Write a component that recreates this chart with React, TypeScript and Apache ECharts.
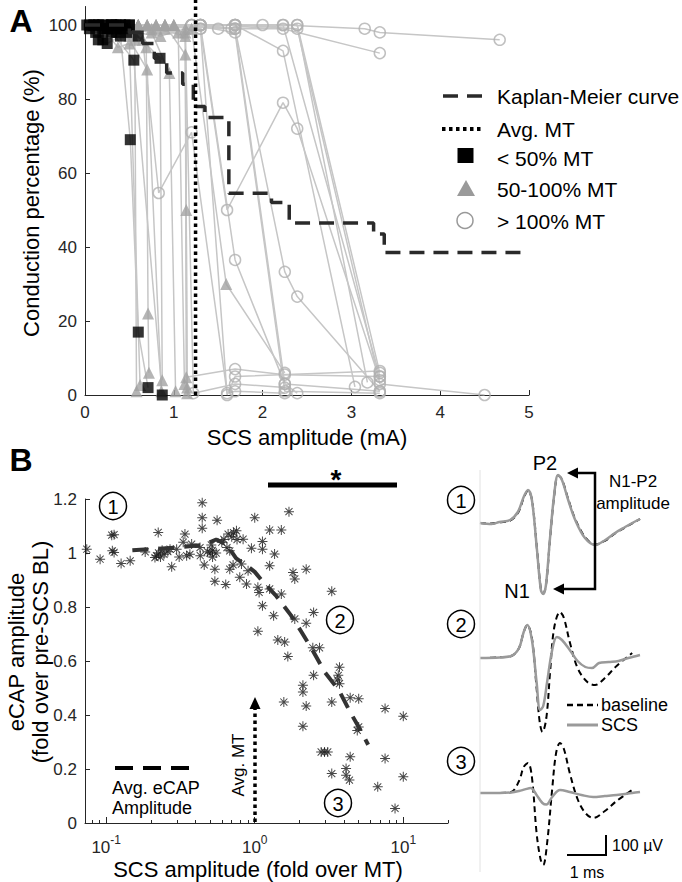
import React, { useEffect, useRef } from "react";
import * as echarts from "echarts";

const FONT = "'Liberation Sans', Arial, Helvetica, sans-serif";
const AXIS_COLOR = "#262626";

// ---------------- Panel A data ----------------
const A_X_TICKS = [0, 1, 2, 3, 4, 5];
const A_Y_TICKS = [0, 20, 40, 60, 80, 100];
const KM_X = [0, 0.5, 0.65, 0.78, 0.92, 1.1, 1.22, 1.35, 1.62, 2.1, 2.3, 3.25, 3.37, 5.0];
const KM_Y = [100, 98, 95, 91, 87, 84, 78, 75, 54.5, 52, 46.5, 43.5, 38.5, 38.5];
const AVG_MT_MA = 1.245;
const AVG_MT_LINE_Y = [0, 107];

// one trajectory per subject: SCS amplitude (mA), conduction (%), marker class
// S: < 50% MT, T: 50-100% MT, C: > 100% MT
const TRAJ_X: number[][] = [
  [0.05, 0.15, 0.25, 0.4, 0.51, 0.6, 0.71],
  [0.1, 0.2, 0.3, 0.55, 0.87],
  [0.15, 0.35, 0.6, 0.845, 0.87],
  [0.2, 0.37, 0.5, 0.62],
  [0.1, 0.3, 0.5, 0.69, 0.71, 0.72],
  [0.05, 0.25, 0.45, 0.7, 0.86],
  [0.2, 0.5, 0.75, 0.95, 1.02],
  [0.3, 0.6, 0.9, 1.13, 1.14, 1.15],
  [0.3, 0.6, 0.9, 1.13, 1.15],
  [0.4, 0.8, 1.13, 1.22, 1.69, 2.25],
  [0.25, 0.55, 0.85, 1.13, 1.14, 1.69, 2.25, 3.32],
  [0.2, 0.45, 0.65, 0.83, 1.2, 1.6, 1.69, 2.25],
  [0.35, 0.7, 1.0, 1.3, 1.6, 2.23, 2.39, 3.32],
  [0.4, 0.8, 1.2, 1.59, 2.25],
  [0.5, 0.9, 1.3, 1.69, 2.25, 3.32],
  [0.6, 1.2, 1.69, 2.25, 2.39, 3.32],
  [0.6, 1.2, 1.69, 2.25, 3.32],
  [0.7, 1.3, 1.69, 2.25, 2.39],
  [0.6, 1.2, 1.69, 2.23, 3.32],
  [0.8, 1.3, 1.69, 2.39, 3.32],
  [0.7, 1.3, 1.69, 2.23, 3.04],
  [0.8, 1.3, 1.69, 2.39, 3.32, 4.5],
  [1.0, 1.69, 2.23, 3.15, 3.32, 4.67],
  [0.9, 1.65, 2.23, 3.32],
  [0.5, 0.9, 1.3, 1.6, 1.69, 3.32],
  [1.0, 1.5, 2.0, 2.39, 3.18],
  [0.45, 0.75, 1.05, 1.12],
  [0.15, 0.35, 0.56, 0.58],
  [0.02, 0.12, 0.22, 0.32, 0.42, 0.47],
];
const TRAJ_Y: number[][] = [
  [99, 96, 95, 97, 69, 17, 2],
  [100, 96, 98, 90.5, 0],
  [100, 99, 97, 91, 4],
  [99, 94, 95, 2.7],
  [100, 100, 97, 94, 22, 6],
  [100, 99, 98, 88, 1],
  [100, 99, 98, 87, 1],
  [100, 100, 99, 98, 50, 2],
  [100, 100, 100, 92, 0.5],
  [100, 99, 97, 0.5, 3, 2],
  [99, 98, 97, 99, 4.8, 7, 5.5, 5],
  [100, 99, 96, 54.6, 71, 0.5, 1, 0.5],
  [100, 100, 100, 99, 50, 79, 72, 4],
  [100, 100, 99, 30, 6],
  [100, 100, 100, 36.5, 3, 1],
  [100, 100, 99, 33.3, 26.6, 1],
  [100, 100, 98, 1, 0.5],
  [100, 100, 99, 3, 0.5],
  [100, 100, 100, 100, 5],
  [100, 100, 99, 100, 6],
  [100, 100, 100, 93, 2.2],
  [100, 100, 100, 99, 3, 0],
  [100, 100, 100, 99, 98, 96],
  [100, 99, 99, 92.4],
  [100, 100, 99, 0, 5, 6.5],
  [100, 99, 100, 100, 3.4],
  [100, 99, 98, 3],
  [100, 98, 96, 1],
  [100, 98, 99, 100, 99, 98],
];
const TRAJ_MARK: string[] = [
  "SSSSSSS", "SSSSS", "SSSST", "STTT", "SSTTTT", "SSTTT", "STTTT", "STTTTT",
  "STTTT", "STTCCC", "STTTTCCC", "STTCCCCC", "STTCCCCC", "STTTC", "STCCCC",
  "TCCCCC", "TCCCC", "TCCCC", "TCCCC", "TCCCC", "TCCCC", "TCCCCC", "TCCCCC",
  "TCCC", "STCCCC", "TCCCC", "STTT", "SSTT", "SSSSSS",
];

// ---------------- Panel B data ----------------
const B_X_MIN = 0.072;
const B_X_MAX = 20;
const B_X_DECADES = [0.1, 1, 10];
const B_X_MINOR = [0.08, 0.09, 0.2, 0.3, 0.4, 0.5, 0.6, 0.7, 0.8, 0.9, 2, 3, 4, 5, 6, 7, 8, 9, 20];
const B_Y_TICKS = [0, 0.2, 0.4, 0.6, 0.8, 1, 1.2];

const ECAP_X = [
  0.074, 0.091, 0.109, 0.113, 0.110, 0.113, 0.126, 0.145, 0.183, 0.224,
  0.213, 0.218, 0.225, 0.232, 0.238, 0.245, 0.26, 0.276, 0.269, 0.298,
  0.339, 0.33, 0.376, 0.348, 0.366, 0.428, 0.443, 0.443, 0.443, 0.457,
  0.539, 0.558, 0.5, 0.52, 0.48, 0.51, 0.539, 0.638, 0.679, 0.679,
  0.662, 0.753, 0.715, 0.793, 0.835, 0.814, 0.88, 0.902, 0.95, 1.0,
  1.05, 1.07, 1.05, 1.127, 1.127, 1.127, 1.26, 1.26, 1.26, 1.36,
  1.34, 1.51, 1.51, 1.43, 1.59, 1.57, 1.70, 1.67, 1.81, 1.86,
  1.86, 2.22, 2.22, 2.11, 2.11, 2.11, 2.22, 2.49, 2.46, 2.49,
  2.73, 2.80, 2.95, 3.1, 3.30, 3.30, 3.30, 3.72, 3.65, 3.72,
  3.6, 4.12, 4.12, 4.34, 4.39, 4.39, 5.01, 5.01, 4.9, 6.73,
  7.54, 7.54, 8.8, 10.0, 10.0, 0.6, 0.62, 0.7, 0.72, 0.76,
  0.65, 0.43, 0.31, 0.52, 0.55,
];
const ECAP_Y = [
  1.014, 0.977, 1.066, 1.068, 1.008, 1.002, 0.961, 0.971, 1.004, 1.076,
  0.983, 0.99, 1.0, 0.985, 1.01, 0.995, 1.005, 0.949, 1.014, 1.014,
  1.07, 1.04, 1.033, 0.99, 0.995, 1.02, 1.186, 1.131, 1.092, 0.956,
  0.94, 1.121, 1.0, 1.01, 1.005, 1.03, 0.895, 0.883, 1.008, 0.94,
  1.07, 1.082, 0.956, 0.91, 1.051, 0.959, 0.885, 0.934, 1.018, 1.131,
  0.873, 0.854, 0.71, 1.043, 1.014, 0.805, 1.085, 0.953, 0.867, 0.996,
  0.768, 1.085, 0.848, 0.678, 0.67, 0.448, 1.153, 0.617, 0.928, 0.904,
  0.756, 0.94, 0.74, 0.51, 0.485, 0.358, 0.433, 0.78, 0.649, 0.547,
  0.649, 0.263, 0.263, 0.263, 0.858, 0.448, 0.183, 0.577, 0.547, 0.516,
  0.53, 0.202, 0.177, 0.159, 0.464, 0.245, 0.46, 0.356, 0.343, 0.134,
  0.424, 0.239, 0.054, 0.395, 0.171, 1.04, 1.05, 1.06, 1.075, 1.05,
  1.02, 0.99, 0.985, 0.985, 1.0,
];
const MEAN_X = [0.15, 0.3, 0.45, 0.55, 0.65, 0.75, 0.9, 1.0, 1.15, 1.4, 1.75, 2.05, 2.45, 2.95, 3.7, 4.4, 5.2, 5.8];
const MEAN_Y = [1.01, 1.02, 1.03, 1.05, 1.03, 0.98, 0.95, 0.93, 0.89, 0.84, 0.77, 0.71, 0.64, 0.56, 0.49, 0.41, 0.34, 0.29];

// ---------------- example traces (time ms, amplitude µV) ----------------
const TRACE_T_RANGE = [0, 4.1];
const TRACE_V_RANGE = [-400, 300];
const TR1_T = [0, 0.3, 0.5, 0.77, 0.97, 1.13, 1.23, 1.33, 1.46, 1.56, 1.62, 1.69, 1.79, 1.9, 2.0, 2.1, 2.26, 2.44, 2.69, 2.95, 3.21, 3.46, 3.72, 3.9, 4.1];
const TR1_BASE = [0, -3, 3, 12, 50, 130, 162, 118, -130, -330, -352, -312, -90, 135, 238, 218, 120, 20, -70, -108, -88, -52, -22, -2, 20];
const TR1_SCS = [0, -5, 5, 15, 55, 135, 165, 115, -135, -335, -355, -310, -85, 140, 240, 215, 115, 15, -75, -110, -85, -50, -20, 0, 20];
const TR2B_T = [0, 0.5, 0.8, 1.0, 1.12, 1.21, 1.33, 1.45, 1.53, 1.6, 1.7, 1.8, 1.9, 2.05, 2.15, 2.3, 2.5, 2.75, 2.95, 3.2, 3.5, 3.9];
const TR2B_V = [0, 3, 10, 50, 130, 165, 100, -150, -320, -370, -300, -60, 150, 230, 200, 80, -50, -120, -135, -100, -40, 25];
const TR2S_T = [0, 0.5, 0.8, 1.0, 1.12, 1.21, 1.33, 1.45, 1.54, 1.62, 1.72, 1.85, 1.97, 2.1, 2.3, 2.5, 2.7, 2.87, 3.05, 3.3, 3.55, 3.8, 4.1];
const TR2S_V = [0, 3, 10, 50, 130, 165, 90, -120, -260, -240, -120, 40, 105, 90, 40, -15, -45, -50, -25, -20, -15, 0, 15];
const TR3B_T = [0, 0.5, 0.8, 1.0, 1.12, 1.23, 1.33, 1.45, 1.55, 1.62, 1.72, 1.85, 1.95, 2.05, 2.15, 2.3, 2.5, 2.7, 2.9, 3.2, 3.5, 3.9];
const TR3B_V = [0, 0, 5, 60, 130, 150, 80, -200, -330, -360, -250, 20, 200, 250, 220, 100, -30, -100, -125, -90, -40, 15];
const TR3S_T = [0, 0.5, 0.8, 1.0, 1.15, 1.3, 1.45, 1.6, 1.7, 1.85, 2.05, 2.3, 2.6, 2.9, 3.2, 3.5, 3.9, 4.1];
const TR3S_V = [0, 0, 3, 10, 18, 25, -10, -50, -58, -20, 15, 5, -10, -20, -15, -10, 0, 5];

const ASTERISK =
  "path://M-1,-0.1L1,-0.1L1,0.1L-1,0.1Z M-0.1,-1L0.1,-1L0.1,1L-0.1,1Z M-0.636,-0.778L0.778,0.636L0.636,0.778L-0.778,-0.636Z M-0.778,0.636L0.636,-0.778L0.778,-0.636L-0.636,0.778Z";

const lg = (v: number) => Math.log10(v);
const pairs = (xs: number[], ys: number[]) => xs.map((x, i) => [x, ys[i]]);

function txt(text: string, x: number, y: number, size: number, opts: any = {}) {
  return {
    type: "text",
    x,
    y,
    z: 100,
    rotation: opts.rot || 0,
    style: {
      text,
      fill: opts.color || "#000",
      font: `${opts.bold ? "bold " : ""}${size}px ${FONT}`,
      textAlign: opts.align || "center",
      textVerticalAlign: "middle",
    },
  };
}
function circ(cx: number, cy: number, r: number, stroke = "#000", lw = 1.5) {
  return { type: "circle", z: 100, shape: { cx, cy, r }, style: { fill: "transparent", stroke, lineWidth: lw } };
}
function seg(x1: number, y1: number, x2: number, y2: number, stroke: string, lw: number, dash?: number[]) {
  return { type: "line", z: 100, shape: { x1, y1, x2, y2 }, style: { stroke, lineWidth: lw, lineDash: dash || null } };
}
function circled(n: string, cx: number, cy: number) {
  return [circ(cx, cy, 13.5), txt(n, cx, cy + 0.5, 20)];
}

function buildOption() {
  const markPts = (m: string) => {
    const out: number[][] = [];
    TRAJ_X.forEach((xs, i) =>
      xs.forEach((x, j) => {
        if (TRAJ_MARK[i][j] === m) out.push([x, TRAJ_Y[i][j]]);
      })
    );
    return out;
  };
  const tickLabel = { fontFamily: FONT, fontSize: 17, color: AXIS_COLOR };
  const axisLine = { show: true, onZero: false, lineStyle: { color: AXIS_COLOR, width: 1 } };
  const hiddenAxis = (gridIndex: number, min: number, max: number) => ({
    gridIndex, type: "value", min, max, show: false,
  });
  const grid = (left: number, top: number, width: number, height: number) => ({
    left, top, width, height, containLabel: false, outerBoundsMode: "none",
  });

  const trajSeries = TRAJ_X.map((xs, i) => ({
    type: "line",
    xAxisIndex: 0,
    yAxisIndex: 0,
    data: pairs(xs, TRAJ_Y[i]),
    symbol: "none",
    silent: true,
    z: 1,
    lineStyle: { color: "#c6c6c6", width: 1.5 },
  }));

  const traceLine = (xi: number, yi: number, t: number[], v: number[], base: boolean) => ({
    type: "line",
    xAxisIndex: xi,
    yAxisIndex: yi,
    data: pairs(t, v),
    symbol: "none",
    smooth: 0.35,
    silent: true,
    z: base ? 3 : 4,
    lineStyle: base
      ? { color: "#000", width: 2, type: [6, 4] }
      : { color: "#9a9a9a", width: 2.5 },
  });

  const graphic: any[] = [
    txt("A", 21, 21, 32, { bold: true }),
    txt("B", 21, 460, 32, { bold: true }),
    // Panel A titles
    txt("Conduction percentage (%)", 31, 203, 22, { rot: Math.PI / 2 }),
    txt("SCS amplitude (mA)", 307, 437, 22),
    // Panel A legend
    seg(443, 96, 482, 96, "#2a2a2a", 3.5, [15, 9]),
    txt("Kaplan-Meier curve", 497, 96, 21, { align: "left" }),
    seg(442, 129, 484, 129, "#000", 4, [3.5, 3.5]),
    txt("Avg. MT", 497, 129, 21, { align: "left" }),
    { type: "rect", z: 100, shape: { x: 457.5, y: 148, width: 16, height: 15 }, style: { fill: "#000" } },
    txt("< 50% MT", 497, 158, 21, { align: "left" }),
    { type: "polygon", z: 100, shape: { points: [[466, 180], [457, 196], [475, 196]] }, style: { fill: "#9a9a9a" } },
    txt("50-100% MT", 497, 189, 21, { align: "left" }),
    circ(465, 220.5, 8, "#999", 1.5),
    txt("> 100% MT", 497, 221, 21, { align: "left" }),
    // Panel B titles
    txt("eCAP amplitude", 16, 652, 22, { rot: Math.PI / 2 }),
    txt("(fold over pre-SCS BL)", 40, 652, 22, { rot: Math.PI / 2 }),
    txt("SCS amplitude (fold over MT)", 258, 869, 22),
    // significance bar
    txt("*", 336, 479, 28, { bold: true }),
    { type: "rect", z: 100, shape: { x: 268, y: 482.5, width: 129, height: 5 }, style: { fill: "#000" } },
    ...circled("1", 113, 506),
    ...circled("2", 340, 620),
    ...circled("3", 338, 803),
    // B legend
    seg(115, 768, 189, 768, "#000", 4, [18, 10]),
    txt("Avg. eCAP", 112, 788, 18, { align: "left" }),
    txt("Amplitude", 112, 808, 18, { align: "left" }),
    // Avg MT arrow
    seg(255, 822, 255, 707, "#000", 3.5, [3.5, 3.5]),
    { type: "polygon", z: 100, shape: { points: [[255, 697], [249.5, 709], [260.5, 709]] }, style: { fill: "#000" } },
    txt("Avg. MT", 238, 765, 17, { rot: Math.PI / 2 }),
    // traces decorations
    seg(480, 470, 480, 872, "#e2e2e2", 1),
    ...circled("1", 461, 500),
    ...circled("2", 461, 624),
    ...circled("3", 461, 761),
    txt("P2", 545, 463, 20),
    txt("N1", 517, 591, 20),
    txt("N1-P2", 633, 481, 17),
    txt("amplitude", 633, 503, 17),
    { type: "polyline", z: 100, shape: { points: [[577, 473], [595, 473], [595, 589], [563, 589]] }, style: { stroke: "#000", lineWidth: 2.5, fill: null } },
    { type: "polygon", z: 100, shape: { points: [[567, 473], [578, 467.5], [578, 478.5]] }, style: { fill: "#000" } },
    { type: "polygon", z: 100, shape: { points: [[553, 589], [564, 583.5], [564, 594.5]] }, style: { fill: "#000" } },
    seg(567, 705, 598, 705, "#000", 2.5, [6, 4]),
    txt("baseline", 601, 705, 18, { align: "left" }),
    seg(567, 725, 598, 725, "#9a9a9a", 3),
    txt("SCS", 601, 725, 18, { align: "left" }),
    { type: "polyline", z: 100, shape: { points: [[567, 855], [606, 855], [606, 835]] }, style: { stroke: "#000", lineWidth: 2, fill: null } },
    txt("100 µV", 612, 845, 16, { align: "left" }),
    txt("1 ms", 587, 872, 16),
  ];

  return {
    animation: false,
    backgroundColor: "#ffffff",
    grid: [
      grid(85, 6.5, 444, 388.5),
      grid(85, 499, 363, 324),
      grid(480, 463, 160, 140),
      grid(480, 598, 160, 140),
      grid(480, 733, 160, 140),
    ],
    xAxis: [
      {
        gridIndex: 0, type: "value", min: 0, max: 5, position: "bottom",
        axisLine,
        axisTick: { show: true, inside: true, length: 5, customValues: A_X_TICKS, lineStyle: { color: AXIS_COLOR } },
        axisLabel: { ...tickLabel, margin: 9, customValues: A_X_TICKS },
        splitLine: { show: false },
      },
      {
        gridIndex: 1, type: "value", min: lg(B_X_MIN), max: lg(B_X_MAX), position: "bottom",
        axisLine,
        axisTick: { show: true, inside: true, length: 6, customValues: B_X_DECADES.map(lg), lineStyle: { color: AXIS_COLOR } },
        axisLabel: {
          margin: 11,
          customValues: B_X_DECADES.map(lg),
          formatter: (v: number) => `{b|10}{s|${Math.round(v)}}`,
          rich: {
            b: { fontFamily: FONT, fontSize: 17, color: AXIS_COLOR, lineHeight: 26 },
            s: { fontFamily: FONT, fontSize: 12, color: AXIS_COLOR, lineHeight: 12, verticalAlign: "top" },
          },
        },
        splitLine: { show: false },
      },
      {
        gridIndex: 1, type: "value", min: lg(B_X_MIN), max: lg(B_X_MAX), position: "bottom", offset: 0,
        axisLine: { show: false, onZero: false },
        axisTick: { show: true, inside: true, length: 3, customValues: B_X_MINOR.map(lg), lineStyle: { color: AXIS_COLOR } },
        axisLabel: { show: false },
        splitLine: { show: false },
      },
      hiddenAxis(2, TRACE_T_RANGE[0], TRACE_T_RANGE[1]),
      hiddenAxis(3, TRACE_T_RANGE[0], TRACE_T_RANGE[1]),
      hiddenAxis(4, TRACE_T_RANGE[0], TRACE_T_RANGE[1]),
    ],
    yAxis: [
      {
        gridIndex: 0, type: "value", min: 0, max: 105,
        axisLine,
        axisTick: { show: true, inside: true, length: 5, customValues: A_Y_TICKS, lineStyle: { color: AXIS_COLOR } },
        axisLabel: { ...tickLabel, margin: 8, customValues: A_Y_TICKS },
        splitLine: { show: false },
      },
      {
        gridIndex: 1, type: "value", min: 0, max: 1.2,
        axisLine,
        axisTick: { show: true, inside: true, length: 5, customValues: B_Y_TICKS, lineStyle: { color: AXIS_COLOR } },
        axisLabel: {
          ...tickLabel, margin: 8, customValues: B_Y_TICKS,
          formatter: (v: number) => String(Math.round(v * 10) / 10),
        },
        splitLine: { show: false },
      },
      hiddenAxis(2, TRACE_V_RANGE[0], TRACE_V_RANGE[1]),
      hiddenAxis(3, TRACE_V_RANGE[0], TRACE_V_RANGE[1]),
      hiddenAxis(4, TRACE_V_RANGE[0], TRACE_V_RANGE[1]),
    ],
    series: [
      ...trajSeries,
      {
        type: "scatter", xAxisIndex: 0, yAxisIndex: 0, data: markPts("C"), symbol: "circle", symbolSize: 11, z: 2, silent: true,
        itemStyle: { color: "rgba(0,0,0,0)", borderColor: "#b0b0b0", borderWidth: 1.5 },
      },
      {
        type: "scatter", xAxisIndex: 0, yAxisIndex: 0, data: markPts("T"), symbol: "triangle", symbolSize: 12, z: 3, silent: true,
        itemStyle: { color: "#a3a3a3" },
      },
      {
        type: "scatter", xAxisIndex: 0, yAxisIndex: 0, data: markPts("S"), symbol: "rect", symbolSize: 11, z: 4, silent: true,
        itemStyle: { color: "#000" },
      },
      {
        type: "line", xAxisIndex: 0, yAxisIndex: 0, data: pairs(KM_X, KM_Y), step: "end", symbol: "none", z: 5, silent: true,
        lineStyle: { color: "#2a2a2a", width: 3.5, type: [15, 9] },
      },
      {
        type: "line", xAxisIndex: 0, yAxisIndex: 0, clip: false, z: 6, silent: true, symbol: "none",
        data: AVG_MT_LINE_Y.map((y) => [AVG_MT_MA, y]),
        lineStyle: { color: "#000", width: 3.5, type: [3.5, 3.5] },
      },
      // Panel B
      {
        type: "scatter", xAxisIndex: 1, yAxisIndex: 1, symbol: ASTERISK, symbolSize: 10, z: 3, silent: true,
        data: ECAP_X.map((x, i) => [lg(x), ECAP_Y[i]]),
        itemStyle: { color: "#1a1a1a" },
      },
      {
        type: "line", xAxisIndex: 1, yAxisIndex: 1, symbol: "none", z: 4, silent: true,
        data: MEAN_X.map((x, i) => [lg(x), MEAN_Y[i]]),
        lineStyle: { color: "#333", width: 4, type: [16, 10] },
      },
      // traces
      traceLine(3, 2, TR1_T, TR1_BASE, true),
      traceLine(3, 2, TR1_T, TR1_SCS, false),
      traceLine(4, 3, TR2B_T, TR2B_V, true),
      traceLine(4, 3, TR2S_T, TR2S_V, false),
      traceLine(5, 4, TR3B_T, TR3B_V, true),
      traceLine(5, 4, TR3S_T, TR3S_V, false),
    ],
    graphic,
  };
}

export default function App() {
  const ref = useRef<HTMLDivElement>(null);
  useEffect(() => {
    document.body.style.margin = "0";
    if (!ref.current) return;
    const chart = echarts.init(ref.current, undefined, { renderer: "svg" });
    chart.setOption(buildOption() as any);
    return () => chart.dispose();
  }, []);
  return (
    <div
      ref={ref}
      style={{ position: "fixed", left: 0, top: 0, width: 682, height: 882, background: "#fff" }}
    />
  );
}
